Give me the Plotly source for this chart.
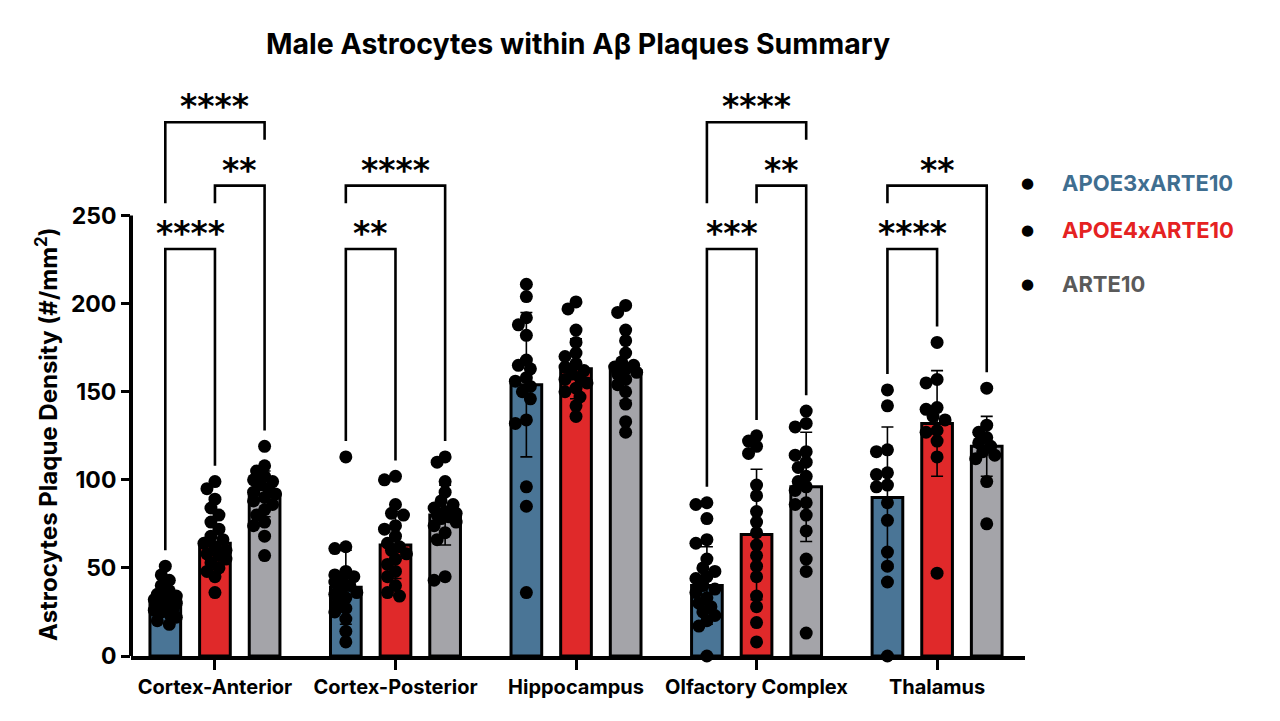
import plotly.graph_objects as go

# ── 데이터 ──────────────────────────────────────────────
categories = ["Cortex-Anterior", "Cortex-Posterior", "Hippocampus",
              "Olfactory Complex", "Thalamus"]
groups = ["APOE3xARTE10", "APOE4xARTE10", "ARTE10"]

mean_apoe3 = [32, 39, 154, 40, 90]
sd_apoe3 = [6, 21, 41, 22, 40]
mean_apoe4 = [64, 63, 163, 69, 132]
sd_apoe4 = [18, 19, 17, 37, 30]
mean_arte10 = [92, 80, 162, 96, 119]
sd_arte10 = [13, 17, 17, 31, 17]

pts_apoe3 = [
    [51, 46, 43, 40, 37, 35, 34, 33, 32, 32, 31, 30, 30, 29, 28, 27, 26, 25, 24, 22, 20, 18],
    [113, 62, 61, 48, 46, 45, 44, 42, 40, 38, 36, 35, 33, 30, 27, 25, 21, 14, 8],
    [211, 204, 192, 188, 182, 168, 165, 163, 158, 156, 153, 150, 146, 134, 132, 96, 85, 36],
    [87, 86, 78, 66, 64, 55, 50, 48, 45, 44, 40, 38, 36, 33, 30, 28, 25, 23, 20, 17, 0],
    [151, 142, 117, 116, 104, 103, 97, 96, 87, 77, 59, 51, 42, 0],
]
pts_apoe4 = [
    [99, 95, 89, 84, 80, 76, 72, 68, 66, 64, 62, 60, 58, 57, 55, 53, 50, 48, 45, 36],
    [102, 100, 86, 81, 80, 74, 72, 68, 64, 62, 60, 58, 55, 52, 48, 45, 40, 36, 34],
    [201, 197, 185, 178, 172, 170, 166, 164, 162, 160, 158, 157, 155, 152, 150, 147, 142, 136],
    [125, 122, 119, 115, 97, 91, 82, 76, 70, 63, 57, 51, 45, 34, 28, 19, 8],
    [178, 157, 155, 141, 140, 136, 134, 128, 127, 122, 113, 47],
]
pts_arte10 = [
    [119, 108, 105, 102, 100, 99, 97, 95, 93, 92, 90, 88, 86, 83, 80, 76, 74, 68, 57],
    [113, 110, 99, 93, 88, 86, 84, 82, 81, 80, 79, 78, 76, 74, 70, 66, 45, 43],
    [199, 195, 185, 179, 172, 167, 165, 164, 163, 161, 160, 157, 154, 150, 143, 133, 127],
    [139, 132, 130, 116, 114, 110, 107, 102, 99, 96, 94, 87, 86, 80, 71, 55, 48, 13],
    [152, 131, 127, 124, 121, 119, 116, 114, 112, 99, 75],
]

# (영역, 그룹 a, 그룹 b, 유의성) — 영역 안에서 아래 → 위 순서
comparisons = [
    (0, 0, 1, "****"), (0, 1, 2, "**"), (0, 0, 2, "****"),
    (1, 0, 1, "**"), (1, 0, 2, "****"),
    (3, 0, 1, "***"), (3, 1, 2, "**"), (3, 0, 2, "****"),
    (4, 0, 1, "****"), (4, 0, 2, "**"),
]

bar_colors = ["#4A7596", "#E0292A", "#A4A4A9"]
text_colors = ["#3F6E90", "#E52222", "#5A5A5A"]

means = [mean_apoe3, mean_apoe4, mean_arte10]
sds = [sd_apoe3, sd_apoe4, sd_arte10]
points = [pts_apoe3, pts_apoe4, pts_arte10]

offsets = [-0.275, 0.0, 0.275]
X_RANGE = [-0.465, 4.487]
Y_RANGE = [0, 340]
PLOT_W, PLOT_H = 894, 599
PX_X = PLOT_W / (X_RANGE[1] - X_RANGE[0])
PX_Y = PLOT_H / (Y_RANGE[1] - Y_RANGE[0])

FONT = "Inter"


def swarm(values, center):
    """간단한 beeswarm 배치 (픽셀 기준 겹침 최소화)"""
    placed = []
    cand = [0, -4, 4, -8, 8, -11, 11]
    xs = []
    for v in values:
        best, best_d = 0, -1
        for c in cand:
            d = min([((c - px) ** 2 + ((v - pv) * PX_Y) ** 2) ** 0.5
                     for px, pv in placed] or [99])
            if d >= 9:
                best = c
                break
            if d > best_d:
                best, best_d = c, d
        placed.append((best, v))
        xs.append(center + best / PX_X)
    return xs


fig = go.Figure()

# ── 막대 + 오차막대 ─────────────────────────────────────
for gi in range(3):
    fig.add_bar(
        x=[i + offsets[gi] for i in range(len(categories))],
        y=means[gi],
        width=0.17,
        marker=dict(color=bar_colors[gi], line=dict(color="black", width=3)),
        error_y=dict(type="data", array=sds[gi], color="black",
                     thickness=1.6, width=6),
        showlegend=False,
    )

# ── 개별 데이터 점 ──────────────────────────────────────
for gi in range(3):
    xs, ys = [], []
    for ci in range(len(categories)):
        vals = points[gi][ci]
        xs += swarm(vals, ci + offsets[gi])
        ys += vals
    fig.add_scatter(x=xs, y=ys, mode="markers", showlegend=False,
                    marker=dict(color="black", size=13, line=dict(width=0)),
                    cliponaxis=False)

# ── 유의성 브래킷 ───────────────────────────────────────
BASE, STEP = 231, 36
done = {}
for ci, a, b, label in comparisons:
    k = len(done.get(ci, []))
    level = BASE + k * STEP
    legs = []
    for g in (a, b):
        end = max(points[g][ci]) + 9
        for lv, ga, gb in done.get(ci, []):
            if g in (ga, gb):
                end = max(end, lv + 26)
        legs.append(end)
    xa, xb = ci + offsets[a], ci + offsets[b]
    fig.add_scatter(x=[xa, xa, xb, xb], y=[legs[0], level, level, legs[1]],
                    mode="lines", line=dict(color="black", width=2.6),
                    showlegend=False, cliponaxis=False)
    fig.add_annotation(x=(xa + xb) / 2, y=level, text=label, showarrow=False,
                       yanchor="bottom", yshift=-6,
                       font=dict(family="DejaVu Sans", size=33, color="black",
                                 weight="bold"))
    done.setdefault(ci, []).append((level, a, b))

# ── y축 선 (0–250 구간만) ───────────────────────────────
fig.add_shape(type="line", xref="paper", x0=0, x1=0, yref="y", y0=0, y1=250,
              line=dict(color="black", width=4))

# ── 범례 (점 + 색상 텍스트) ─────────────────────────────
# 기준 그림의 픽셀 위치 (플롯 영역 원점: x=131, y=656)
legend_y = [183, 230, 284]
for gi in range(3):
    yp = (656 - legend_y[gi]) / PLOT_H
    fig.add_annotation(xref="paper", yref="paper", x=(1027 - 131) / PLOT_W, y=yp,
                       text="●", showarrow=False, xanchor="center", yanchor="middle",
                       font=dict(family="DejaVu Sans", size=15, color="black"))
    fig.add_annotation(xref="paper", yref="paper", x=(1060 - 131) / PLOT_W, y=yp,
                       text=groups[gi], showarrow=False, xanchor="left",
                       yanchor="middle",
                       font=dict(family=FONT, size=22, color=text_colors[gi],
                                 weight="bold"))

# ── y축 제목 ────────────────────────────────────────────
fig.add_annotation(xref="paper", yref="y", x=(47 - 131) / PLOT_W, y=126,
                   text="Astrocytes Plaque Density (#/mm<sup>2</sup>)",
                   textangle=-90, showarrow=False, xanchor="center",
                   yanchor="middle",
                   font=dict(family=FONT, size=24, color="black", weight="bold"))

# 브라우저 기본 여백(8px)만큼 보정
fig.update_layout(
    width=1280, height=721,
    margin=dict(l=123, r=263, t=49, b=73),
    template="plotly_white",
    plot_bgcolor="white", paper_bgcolor="white",
    barmode="overlay",
    font=dict(family=FONT, color="black"),
    title=dict(text="Male Astrocytes within Aβ Plaques Summary",
               x=570 / 1280, xanchor="center",
               y=1 - 36 / 721, yanchor="middle",
               font=dict(family=FONT, size=28.5, color="black", weight="bold")),
    xaxis=dict(range=X_RANGE, tickvals=list(range(len(categories))),
               ticktext=categories, ticks="outside", ticklen=10, tickwidth=3,
               tickcolor="black", showline=True, linewidth=4, linecolor="black",
               showgrid=False, zeroline=False,
               tickfont=dict(family=FONT, size=20, color="black", weight="bold")),
    yaxis=dict(range=Y_RANGE, tickvals=[0, 50, 100, 150, 200, 250],
               ticks="outside", ticklen=9, tickwidth=3, tickcolor="black",
               showline=False, showgrid=False, zeroline=False,
               tickfont=dict(family=FONT, size=23, color="black", weight="bold")),
)

fig.write_html("out.html")
